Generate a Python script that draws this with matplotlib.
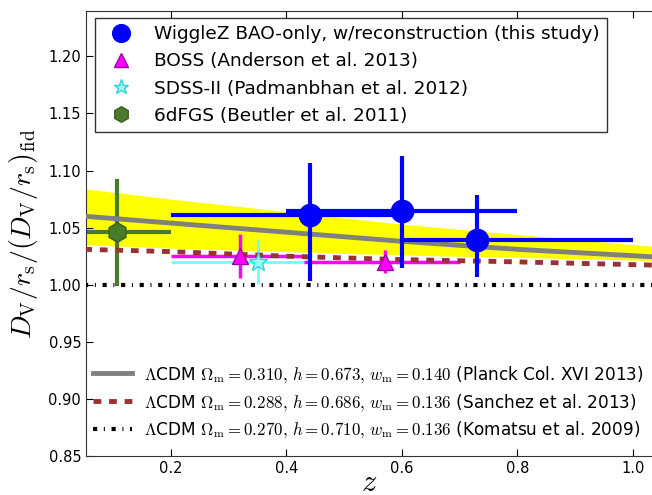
import numpy as np
import matplotlib
matplotlib.use("Agg")
import matplotlib.pyplot as plt

plt.rcParams['mathtext.fontset'] = 'cm'
plt.rcParams['font.family'] = 'DejaVu Sans'

# WiggleZ (this study)
z_wz = [0.44, 0.60, 0.73]
y_wz = [1.061, 1.065, 1.039]
yerr_wz_lo = [0.058, 0.050, 0.032]
yerr_wz_hi = [0.046, 0.048, 0.040]
xerr_wz_lo = [0.24, 0.20, 0.13]
xerr_wz_hi = [0.16, 0.20, 0.27]

# BOSS
z_boss = [0.32, 0.57]
y_boss = [1.025, 1.020]
yerr_boss = [0.019, 0.010]
xerr_boss_lo = [0.12, 0.14]
xerr_boss_hi = [0.11, 0.13]

# SDSS-II
z_sdss = [0.35]
y_sdss = [1.020]
yerr_sdss = [0.019]
xerr_sdss = [0.15]

# 6dFGS
z_6df = [0.106]
y_6df = [1.046]
yerr_6df = [0.047]
xerr_6df = [0.094]

# modelos
z_mod = [0.05, 0.2, 0.4, 0.6, 0.8, 1.05]
planck = [1.060, 1.054, 1.046, 1.038, 1.031, 1.024]
sanchez = [1.031, 1.029, 1.025, 1.022, 1.020, 1.017]
komatsu = [1.000, 1.000, 1.000, 1.000, 1.000, 1.000]
banda_sup = [1.084, 1.075, 1.064, 1.053, 1.044, 1.033]
banda_inf = [1.035, 1.032, 1.029, 1.026, 1.024, 1.021]

fig = plt.figure(figsize=(6.52, 4.95), dpi=100)
ax = fig.add_axes([86/652, 39/495, 566/652, 445.3/495])

ax.fill_between(z_mod, banda_inf, banda_sup, color='#ffff00', lw=0, zorder=1)

l1, = ax.plot(z_mod, planck, color='#808080', lw=3.5, zorder=3,
              label=r'$\Lambda$CDM $\Omega_{\rm m}=0.310,\, h=0.673,\, w_{\rm m}=0.140$ (Planck Col. XVI 2013)')
l2, = ax.plot(z_mod, sanchez, color='#993333', lw=3.5, ls=(0, (1.6, 1.6)), zorder=3,
              label=r'$\Lambda$CDM $\Omega_{\rm m}=0.288,\, h=0.686,\, w_{\rm m}=0.136$ (Sanchez et al. 2013)')
l3, = ax.plot(z_mod, komatsu, color='black', lw=3, ls=(0, (1.0, 1.6, 0.25, 1.6)), zorder=3,
              label=r'$\Lambda$CDM $\Omega_{\rm m}=0.270,\, h=0.710,\, w_{\rm m}=0.136$ (Komatsu et al. 2009)')

# barras de error
ax.errorbar(z_6df, y_6df, yerr=yerr_6df, xerr=[[0.106], xerr_6df], fmt='none',
            ecolor='#4a7a2c', elinewidth=3, capsize=0, zorder=2)
ax.errorbar(z_sdss, y_sdss, yerr=yerr_sdss, xerr=xerr_sdss, fmt='none',
            ecolor='#70ffff', elinewidth=2, capsize=0, zorder=2)
ax.errorbar(z_boss, y_boss, yerr=yerr_boss, xerr=[xerr_boss_lo, xerr_boss_hi], fmt='none',
            ecolor='#ff00ff', elinewidth=2.5, capsize=0, zorder=2)
ax.errorbar(z_wz, y_wz, yerr=[yerr_wz_lo, yerr_wz_hi], xerr=[xerr_wz_lo, xerr_wz_hi], fmt='none',
            ecolor='#0000ff', elinewidth=3, capsize=0, zorder=4)

p1, = ax.plot(z_wz, y_wz, 'o', color='#0000ff', ms=16, zorder=5,
              label='WiggleZ BAO-only, w/reconstruction (this study)')
p2, = ax.plot(z_boss, y_boss, '^', color='#ff00ff', mec='#a000a0', ms=12, zorder=5,
              label='BOSS (Anderson et al. 2013)')
p3, = ax.plot(z_sdss, y_sdss, '*', color='#a0ffff', mec='#30d0d0', ms=14, zorder=5,
              label='SDSS-II (Padmanbhan et al. 2012)')
p4, = ax.plot(z_6df, y_6df, 'h', color='#4a7a2c', mec='#3a6020', ms=14, zorder=5,
              label='6dFGS (Beutler et al. 2011)')

ax.set_xlim(0.053, 1.033)
ax.set_ylim(0.85, 1.24)
ax.set_xticks([0.2, 0.4, 0.6, 0.8, 1.0])
ax.set_yticks([0.85, 0.90, 0.95, 1.00, 1.05, 1.10, 1.15, 1.20])
ax.tick_params(direction='in', top=True, right=False, length=5, labelsize=10.5)
ax.spines['right'].set_visible(False)
for s in ['left', 'bottom', 'top']:
    ax.spines[s].set_color('#333333')

ax.set_xlabel(r'$z$', fontsize=22, labelpad=-6)
ax.set_ylabel(r'$D_{\rm V}/r_{\rm s}/(D_{\rm V}/r_{\rm s})_{\rm fid}$', fontsize=20, labelpad=6)

leg1 = ax.legend(handles=[p1, p2, p3, p4], loc='upper left', bbox_to_anchor=(0.016, 0.984),
                 borderaxespad=0, fontsize=13.3, numpoints=1, markerscale=0.8,
                 fancybox=False, edgecolor='#333333', framealpha=1, labelspacing=0.5,
                 handletextpad=0.8, borderpad=0.4)
ax.add_artist(leg1)
ax.legend(handles=[l1, l2, l3], loc='lower left', bbox_to_anchor=(0.0, 0.02),
          borderaxespad=0, fontsize=12.2, frameon=False, handlelength=2.3,
          labelspacing=0.4, handletextpad=0.7)

fig.savefig('out.png', dpi=100)
